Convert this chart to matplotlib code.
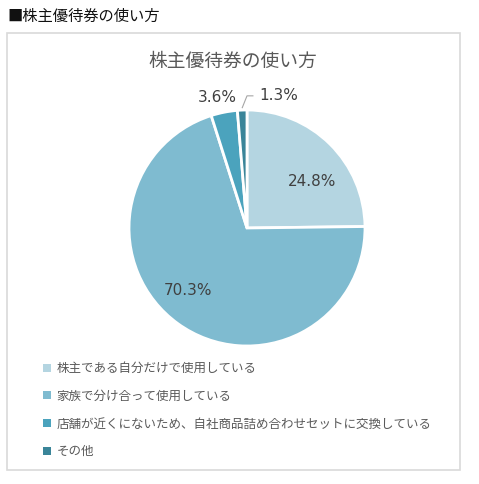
import numpy as np
import matplotlib
matplotlib.use("Agg")
import matplotlib.pyplot as plt
from matplotlib.patches import Patch, Rectangle

plt.rcParams['font.family'] = ['Noto Sans CJK JP', 'DejaVu Sans']

title = '株主優待券の使い方'
categories = ['株主である自分だけで使用している',
              '家族で分け合って使用している',
              '店舗が近くにないため、自社商品詰め合わせセットに交換している',
              'その他']
values = [24.8, 70.3, 3.6, 1.3]
colors = ['#B4D5E1', '#7FBBD0', '#4BA3BD', '#3A8599']

W, H = 479, 484
fig = plt.figure(figsize=(W / 100, H / 100), dpi=100)
fig.patch.set_facecolor('white')

# outer chart frame
fig.add_artist(Rectangle((7 / W, 1 - 470 / H), 453 / W, 437 / H,
                         transform=fig.transFigure, fill=False,
                         edgecolor='#D9D9D9', linewidth=1.2))
fig.text(7 / W, 1 - 16 / H, '■' + title, fontsize=11, color='#111111',
         va='center', ha='left')
fig.text(233 / W, 1 - 61 / H, title, fontsize=13.5, color='#595959',
         va='center', ha='center')

# pie axes, center (247,228) radius 118 px
cx, cy, r = 247, 228, 118
ax = fig.add_axes([(cx - r) / W, (H - cy - r) / H, 2 * r / W, 2 * r / H])
wedges, texts, autotexts = ax.pie(values, colors=colors, startangle=90,
                                  counterclock=False, radius=1,
                                  autopct='%.1f%%', pctdistance=0.66,
                                  wedgeprops=dict(edgecolor='white', linewidth=2),
                                  textprops=dict(fontsize=11, color='#404040',
                                                 family='DejaVu Sans'))
ax.set_xlim(-1, 1)
ax.set_ylim(-1, 1)
ax.set_aspect('auto')
ax.axis('off')

# label placement like excel
autotexts[0].set_position((0.55, 0.39))
autotexts[1].set_position((-0.5, -0.53))
autotexts[2].set_position((-0.25, 1.11))
autotexts[3].set_position((0.27, 1.12))
ax.plot([-0.04, 0.0, 0.05], [1.02, 1.12, 1.12], color='#A6A6A6', lw=0.8,
        clip_on=False)

handles = [Patch(facecolor=c, edgecolor='none') for c in colors]
leg = fig.legend(handles, categories, loc='upper left',
                 bbox_to_anchor=(38 / W, 1 - 357 / H), frameon=False,
                 fontsize=9, labelcolor='#595959', handlelength=0.6,
                 handleheight=0.6, handletextpad=0.5, labelspacing=1.18,
                 borderaxespad=0)

fig.savefig('out.png', dpi=100, facecolor='white')
